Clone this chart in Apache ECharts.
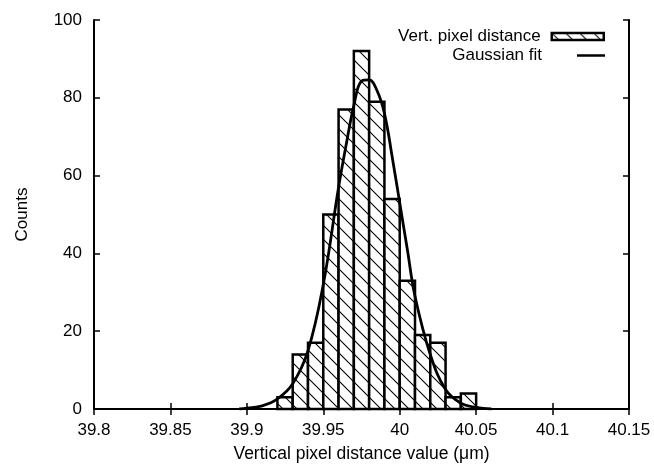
<!DOCTYPE html>
<html>
<head>
<meta charset="utf-8">
<script src="https://cdn.jsdelivr.net/npm/echarts@6/dist/echarts.min.js"></script>
<style>
html,body{margin:0;padding:0;background:#fff;}
#chart{width:654px;height:468px;}
</style>
</head>
<body>
<div id="chart"></div>
<script>
// Histogram bins (µm) and counts
const binStarts = [39.92, 39.93, 39.94, 39.95, 39.96, 39.97, 39.98, 39.99, 40.00, 40.01, 40.02, 40.03, 40.04];
const binEnds   = [39.93, 39.94, 39.95, 39.96, 39.97, 39.98, 39.99, 40.00, 40.01, 40.02, 40.03, 40.04, 40.05];
const counts    = [3, 14, 17, 50, 77, 92, 79, 54, 33, 19, 17, 3, 4];

// Gaussian fit curve
const curveX = [39.895, 39.90, 39.91, 39.92, 39.93, 39.94, 39.95, 39.96, 39.965, 39.97, 39.975, 39.98, 39.985, 39.99, 39.995, 40.00, 40.005, 40.01, 40.02, 40.03, 40.04, 40.05, 40.06];
const curveY = [0, 0.2, 0.8, 2.6, 6.5, 15, 32, 57, 68, 78, 84.3, 84.6, 82, 76, 65, 53, 41, 29, 14, 5, 1.5, 0.4, 0];

const xTicks = [39.8, 39.85, 39.9, 39.95, 40, 40.05, 40.1, 40.15];
const yTicks = [0, 20, 40, 60, 80, 100];

const seriesNames = ['Vert. pixel distance', 'Gaussian fit'];
const xTitle = 'Vertical pixel distance value (\u03bcm)';
const yTitle = 'Counts';

// hatch pattern
const tile = 14;
const pc = document.createElement('canvas');
pc.width = tile; pc.height = tile;
const ctx = pc.getContext('2d');
ctx.fillStyle = '#fff';
ctx.fillRect(0, 0, tile, tile);
ctx.strokeStyle = '#000';
ctx.lineWidth = 1.1;
ctx.beginPath();
ctx.moveTo(-1, -1); ctx.lineTo(tile + 1, tile + 1);
ctx.moveTo(-tile - 1, -1); ctx.lineTo(1, tile + 1);
ctx.moveTo(tile - 1, -1); ctx.lineTo(2 * tile + 1, tile + 1);
ctx.stroke();
const hatch = { image: pc, repeat: 'repeat' };

const FONT = 'Liberation Sans, Arial, Helvetica, sans-serif';
const fmt = v => String(+(+v).toFixed(2));

const axisLineStyle = { show: true, lineStyle: { color: '#000', width: 2 } };
const tickStyle = { show: true, inside: true, length: 6, lineStyle: { color: '#000', width: 1.5 } };

const chart = echarts.init(document.getElementById('chart'), null, { renderer: 'canvas' });
chart.setOption({
  animation: false,
  backgroundColor: '#fff',
  grid: { left: 94, right: 25, top: 20, bottom: 56, containLabel: false },
  legend: [
    {
      data: [{ name: seriesNames[0], icon: 'rect', itemStyle: { color: hatch, borderColor: '#000', borderWidth: 2.5 } }],
      orient: 'vertical', align: 'right', right: 49, top: 28, padding: 0,
      itemWidth: 52, itemHeight: 7,
      textStyle: { fontFamily: FONT, fontSize: 17, color: '#000', padding: [0, 6, 0, 0] },
      selectedMode: false
    },
    {
      data: [{ name: seriesNames[1], icon: 'rect', itemStyle: { color: '#000', borderWidth: 0 } }],
      orient: 'vertical', align: 'right', right: 49, top: 47, padding: 0,
      itemWidth: 28, itemHeight: 2.5,
      textStyle: { fontFamily: FONT, fontSize: 17, color: '#000', padding: [0, 30, 0, 0] },
      selectedMode: false
    }
  ],
  xAxis: [
    {
      type: 'value', position: 'bottom',
      min: xTicks[0], max: xTicks[xTicks.length - 1], interval: 0.05,
      axisLine: axisLineStyle, axisTick: tickStyle, splitLine: { show: false },
      axisLabel: { formatter: fmt, color: '#000', fontFamily: FONT, fontSize: 17, margin: 13, showMaxLabel: true, showMinLabel: true },
      name: xTitle, nameLocation: 'middle', nameGap: 36,
      nameTextStyle: { fontFamily: FONT, fontSize: 17.5, color: '#000' }
    },
    {
      type: 'value', position: 'top',
      min: xTicks[0], max: xTicks[xTicks.length - 1], interval: 0.05,
      axisLine: axisLineStyle, axisTick: tickStyle, splitLine: { show: false },
      axisLabel: { show: false }
    }
  ],
  yAxis: [
    {
      type: 'value', position: 'left',
      min: yTicks[0], max: yTicks[yTicks.length - 1], interval: 20,
      axisLine: axisLineStyle, axisTick: tickStyle, splitLine: { show: false },
      axisLabel: { color: '#000', fontFamily: FONT, fontSize: 17, margin: 12 },
      name: yTitle, nameLocation: 'middle', nameGap: 63, nameRotate: 90,
      nameTextStyle: { fontFamily: FONT, fontSize: 17, color: '#000' }
    },
    {
      type: 'value', position: 'right',
      min: yTicks[0], max: yTicks[yTicks.length - 1], interval: 20,
      axisLine: axisLineStyle, axisTick: tickStyle, splitLine: { show: false },
      axisLabel: { show: false }
    }
  ],
  series: [
    {
      name: seriesNames[0],
      type: 'custom',
      xAxisIndex: 0, yAxisIndex: 0,
      itemStyle: { color: hatch, borderColor: '#000', borderWidth: 2.5 },
      data: binStarts.map((s, i) => [s, binEnds[i], counts[i]]),
      encode: { x: [0, 1], y: 2 },
      renderItem: function (params, api) {
        const p0 = api.coord([api.value(0), api.value(2)]);
        const p1 = api.coord([api.value(1), 0]);
        return {
          type: 'rect',
          shape: { x: p0[0], y: p0[1], width: p1[0] - p0[0], height: p1[1] - p0[1] },
          style: { fill: hatch, stroke: '#000', lineWidth: 2.5 }
        };
      },
      z: 2
    },
    {
      name: seriesNames[1],
      type: 'line',
      xAxisIndex: 0, yAxisIndex: 0,
      data: curveX.map((x, i) => [x, curveY[i]]),
      smooth: 0.4,
      symbol: 'none',
      lineStyle: { color: '#000', width: 2.8 },
      itemStyle: { color: '#000' },
      z: 3
    }
  ]
});
</script>
</body>
</html>
